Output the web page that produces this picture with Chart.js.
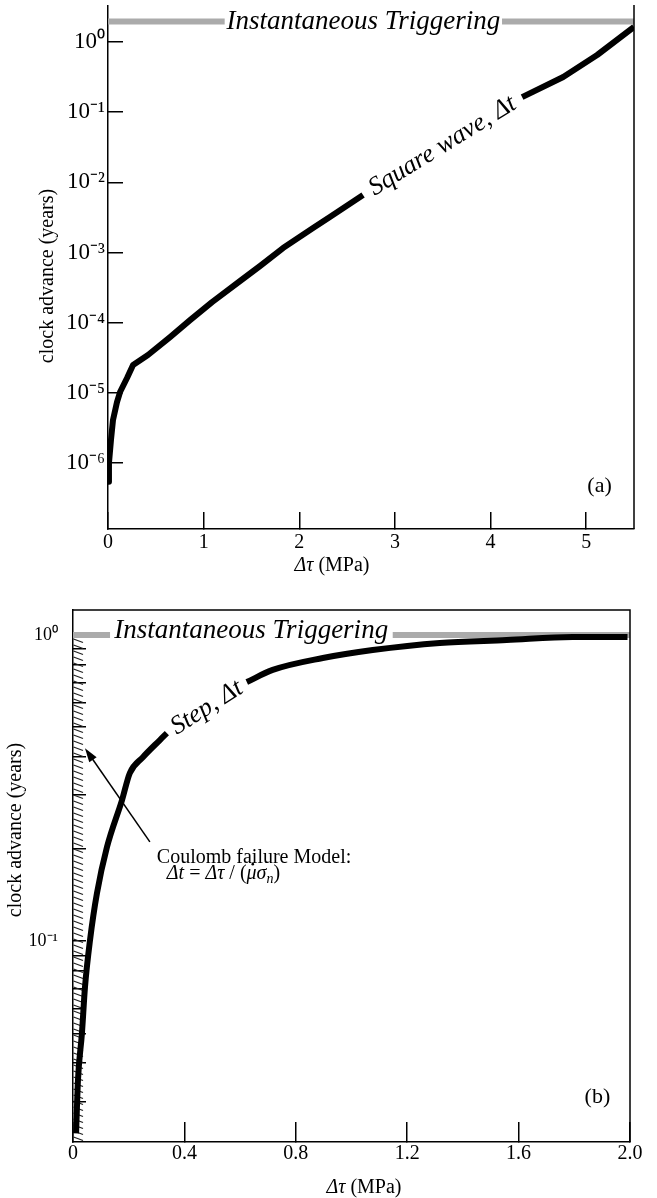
<!DOCTYPE html>
<html>
<head>
<meta charset="utf-8">
<script src="https://cdn.jsdelivr.net/npm/chart.js@4"></script>
<style>
  html, body { margin: 0; padding: 0; background: #fff; }
  .panel { position: absolute; left: 0; width: 657px; }
  #wrapA { top: 0; height: 590px; }
  #wrapB { top: 590px; height: 608px; }
</style>
</head>
<body>
<div class="panel" id="wrapA"><canvas id="chartA" width="657" height="590"></canvas></div>
<div class="panel" id="wrapB"><canvas id="chartB" width="657" height="608"></canvas></div>
<script>
// Panel (a): square wave clock advance.
var squareX = [0, 0.010, 0.031, 0.052, 0.094, 0.126, 0.199, 0.262, 0.418, 0.649, 0.858, 1.088, 1.381, 1.59, 1.83, 2.144, 2.32, 2.667, 3.5, 4.33, 4.76, 5.115, 5.5];
var squareY = [5.4e-7, 1.0e-6, 2.13e-6, 4.1e-6, 7.4e-6, 1.03e-5, 1.63e-5, 2.5e-5, 3.47e-5, 6.25e-5, 1.09e-4, 1.97e-4, 3.93e-4, 6.43e-4, 1.16e-3, 2.23e-3, 3.2e-3, 6.6e-3, null, 0.164, 0.318, 0.653, 1.64];
var triggerAX = [0, 1.22, 2.67, 4.12, 5.5];
var triggerAY = [1.96, 1.96, null, 1.96, 1.96];
var xTicksA = [0, 1, 2, 3, 4, 5];
var yTicksA = [1e-6, 1e-5, 1e-4, 1e-3, 1e-2, 1e-1, 1];

// Panel (b): step clock advance and Coulomb model.
var stepX = [0.011, 0.018, 0.032, 0.043, 0.061, 0.086, 0.122, 0.176, 0.204, 0.251, 0.312, 0.337, 0.48, 0.624, 0.717, 0.897, 1.076, 1.317, 1.557, 1.794, 1.991];
var stepY = [0.0236, 0.0354, 0.050, 0.0708, 0.1007, 0.1435, 0.203, 0.289, 0.354, 0.399, 0.454, 0.478, null, 0.702, 0.769, 0.841, 0.893, 0.942, 0.963, 0.985, 0.985];
var triggerBX = [0, 0.133, 0.64, 1.148, 2.0];
var triggerBY = [1, 1, null, 1, 1];
var coulombX = [0.025, 0.025];
var coulombY = [0.0221, 0.985];
var xTicksB = [0, 0.4, 0.8, 1.2, 1.6, 2.0];
var yTicksB = [0.03, 0.04, 0.05, 0.06, 0.07, 0.08, 0.09, 0.1, 0.2, 0.3, 0.4, 0.5, 0.6, 0.7, 0.8, 0.9, 1];

var serif = "'Liberation Serif', 'Times New Roman', serif";

function points(xs, ys) {
  return xs.map(function (x, i) { return {x: x, y: ys[i]}; });
}

function sup(n) {
  var map = {'-': '\u207B', '0': '\u2070', '1': '\u00B9', '2': '\u00B2', '3': '\u00B3', '4': '\u2074', '5': '\u2075', '6': '\u2076', '7': '\u2077', '8': '\u2078', '9': '\u2079'};
  return String(n).split('').map(function (c) { return map[c]; }).join('');
}

function decadeLabel(v) {
  var e = Math.log10(v);
  if (Math.abs(e - Math.round(e)) > 1e-6) {
    return '';
  }
  return '10' + sup(Math.round(e));
}

// Hatch used for the Coulomb failure band.
function hatch() {
  var c = document.createElement('canvas');
  c.width = 14;
  c.height = 6;
  var g = c.getContext('2d');
  g.strokeStyle = '#222';
  g.lineWidth = 1.3;
  g.beginPath();
  g.moveTo(3.5, 1);
  g.lineTo(13, 4.5);
  g.stroke();
  return g.createPattern(c, 'repeat');
}

function axis(tickLength, padding, size, ticks, callback, width, height) {
  return {
    grid: {drawOnChartArea: false, drawTicks: true, tickLength: tickLength, color: '#000', lineWidth: 1.5},
    border: {display: true, color: '#000', width: 1.5},
    ticks: {color: '#000', padding: padding, autoSkip: false, maxRotation: 0, font: {family: serif, size: size}, callback: callback},
    afterBuildTicks: function (s) {
      s.ticks = ticks.map(function (v) { return {value: v}; });
    },
    afterFit: function (s) {
      if (width) { s.width = width; }
      if (height) { s.height = height; }
      s.paddingLeft = 0;
      s.paddingRight = 0;
      s.paddingTop = 0;
      s.paddingBottom = 0;
    }
  };
}

function frame(ctx, area, top) {
  ctx.strokeStyle = '#000';
  ctx.lineWidth = 1.5;
  ctx.beginPath();
  if (top) {
    ctx.moveTo(area.left, area.top);
    ctx.lineTo(area.right, area.top);
  } else {
    ctx.moveTo(area.right, area.top - 1);
  }
  ctx.lineTo(area.right, area.bottom);
  ctx.stroke();
}

// Text laid along the gap left in a curve.
function gapLabel(chart, dsIndex, ys, text) {
  var gap = ys.indexOf(null);
  var pts = chart.getDatasetMeta(dsIndex).data;
  var a = pts[gap - 1], b = pts[gap + 1];
  var ctx = chart.ctx;
  ctx.save();
  ctx.translate((a.x + b.x) / 2, (a.y + b.y) / 2);
  ctx.rotate(Math.atan2(b.y - a.y, b.x - a.x));
  ctx.font = 'italic 26px ' + serif;
  ctx.textAlign = 'center';
  ctx.textBaseline = 'middle';
  ctx.fillText(text, 0, 0);
  ctx.restore();
}

function yTitle(ctx, x, y) {
  ctx.save();
  ctx.translate(x, y);
  ctx.rotate(-Math.PI / 2);
  ctx.font = '20px ' + serif;
  ctx.textAlign = 'center';
  ctx.textBaseline = 'middle';
  ctx.fillText('clock advance (years)', 0, 0);
  ctx.restore();
}

// Draw text runs with mixed fonts; p[2] shifts the baseline, p[3] puts a dot over the run.
function runs(ctx, parts, x, y) {
  ctx.textAlign = 'left';
  ctx.textBaseline = 'middle';
  parts.forEach(function (p) {
    ctx.font = p[0] + serif;
    ctx.fillText(p[1], x, y + (p[2] || 0));
    var w = ctx.measureText(p[1]).width;
    if (p[3]) {
      ctx.beginPath();
      ctx.arc(x + w * 0.62, y - 10, 1.3, 0, Math.PI * 2);
      ctx.fill();
    }
    x += w;
  });
}

function xTitle(ctx, cx, cy) {
  var parts = [['italic 20px ', '\u0394\u03C4'], ['20px ', ' (MPa)']];
  var w = 0;
  parts.forEach(function (p) { ctx.font = p[0] + serif; w += ctx.measureText(p[1]).width; });
  runs(ctx, parts, cx - w / 2, cy);
}

var panelA = {
  id: 'panelA',
  afterDraw: function (chart) {
    var ctx = chart.ctx, area = chart.chartArea, xs = chart.scales.x, ys = chart.scales.y;
    ctx.save();
    frame(ctx, area, false);
    ctx.fillStyle = '#000';
    ctx.font = 'italic 27px ' + serif;
    ctx.textAlign = 'center';
    ctx.textBaseline = 'middle';
    ctx.fillText('Instantaneous Triggering', xs.getPixelForValue(triggerAX[2]), ys.getPixelForValue(triggerAY[0]));
    gapLabel(chart, 0, squareY, 'Square wave, \u0394t');
    ctx.font = '22px ' + serif;
    ctx.textAlign = 'center';
    ctx.fillText('(a)', xs.getPixelForValue(5.14), ys.getPixelForValue(4.7e-7));
    yTitle(ctx, 48, 276);
    xTitle(ctx, 332, 566);
    ctx.restore();
  }
};

var panelB = {
  id: 'panelB',
  afterDraw: function (chart) {
    var ctx = chart.ctx, area = chart.chartArea, xs = chart.scales.x, ys = chart.scales.y;
    ctx.save();
    frame(ctx, area, true);
    ctx.fillStyle = '#000';
    ctx.strokeStyle = '#000';
    ctx.font = 'italic 27px ' + serif;
    ctx.textAlign = 'center';
    ctx.textBaseline = 'middle';
    ctx.fillText('Instantaneous Triggering', xs.getPixelForValue(triggerBX[2]), ys.getPixelForValue(triggerBY[0]) - 4);
    gapLabel(chart, 0, stepY, 'Step, \u0394t');

    // Arrow to the Coulomb band.
    var x0 = xs.getPixelForValue(0.276), y0 = ys.getPixelForValue(0.211);
    var x1 = xs.getPixelForValue(0.043), y1 = ys.getPixelForValue(0.427);
    var ang = Math.atan2(y1 - y0, x1 - x0);
    ctx.lineWidth = 1.5;
    ctx.beginPath();
    ctx.moveTo(x0, y0);
    ctx.lineTo(x1 - 8 * Math.cos(ang), y1 - 8 * Math.sin(ang));
    ctx.stroke();
    ctx.beginPath();
    ctx.moveTo(x1, y1);
    ctx.lineTo(x1 - 14 * Math.cos(ang) + 4.5 * Math.sin(ang), y1 - 14 * Math.sin(ang) - 4.5 * Math.cos(ang));
    ctx.lineTo(x1 - 14 * Math.cos(ang) - 4.5 * Math.sin(ang), y1 - 14 * Math.sin(ang) + 4.5 * Math.cos(ang));
    ctx.closePath();
    ctx.fill();

    runs(ctx, [['20px ', 'Coulomb failure Model:']], xs.getPixelForValue(0.301), ys.getPixelForValue(0.188));
    runs(ctx, [
      ['italic 20px ', '\u0394t'], ['20px ', ' = '], ['italic 20px ', '\u0394\u03C4'], ['20px ', ' / ('],
      ['italic 20px ', '\u03BC', 0, true], ['italic 20px ', '\u03C3'], ['italic 14px ', 'n', 5], ['20px ', ')']
    ], xs.getPixelForValue(0.337), ys.getPixelForValue(0.1656));

    ctx.font = '22px ' + serif;
    ctx.textAlign = 'center';
    ctx.fillText('(b)', xs.getPixelForValue(1.883), ys.getPixelForValue(0.0309));
    yTitle(ctx, 16, 240);
    xTitle(ctx, 364, 598);
    ctx.restore();
  }
};

var common = {
  responsive: false,
  animation: false,
  devicePixelRatio: 1,
  plugins: {legend: {display: false}, tooltip: {enabled: false}},
  elements: {point: {radius: 0}, line: {tension: 0, borderJoinStyle: 'round', borderCapStyle: 'butt'}}
};

new Chart(document.getElementById('chartA'), {
  type: 'scatter',
  data: {
    datasets: [
      {data: points(squareX, squareY), showLine: true, borderColor: '#000', borderWidth: 6},
      {data: points(triggerAX, triggerAY), showLine: true, borderColor: '#ababab', borderWidth: 6}
    ]
  },
  options: Object.assign({}, common, {
    layout: {padding: {left: 0, top: 6, right: 23, bottom: 0}},
    scales: {
      x: Object.assign(axis(-17, 19, 20, xTicksA, function (v) { return String(v); }, 0, 61), {type: 'linear', min: 0, max: 5.5}),
      y: Object.assign(axis(-15, 18, 23, yTicksA, decadeLabel, 108, 0), {type: 'logarithmic', min: 1.15e-7, max: 3.26})
    }
  }),
  plugins: [panelA]
});

new Chart(document.getElementById('chartB'), {
  type: 'scatter',
  data: {
    datasets: [
      {data: points(stepX, stepY), showLine: true, borderColor: '#000', borderWidth: 6, cubicInterpolationMode: 'monotone'},
      {data: points(triggerBX, triggerBY), showLine: true, borderColor: '#ababab', borderWidth: 6},
      {data: points(coulombX, coulombY), showLine: true, borderColor: hatch(), borderWidth: 14}
    ]
  },
  options: Object.assign({}, common, {
    layout: {padding: {left: 0, top: 20, right: 27, bottom: 0}},
    scales: {
      x: Object.assign(axis(-20, 20, 20, xTicksB, function (v) { return v === 0 ? '0' : v.toFixed(1); }, 0, 56), {type: 'linear', min: 0, max: 2}),
      y: Object.assign(axis(-13, 28, 18, yTicksB, decadeLabel, 73, 0), {type: 'logarithmic', min: 0.0221, max: 1.207, z: 1})
    }
  }),
  plugins: [panelB]
});
</script>
</body>
</html>
